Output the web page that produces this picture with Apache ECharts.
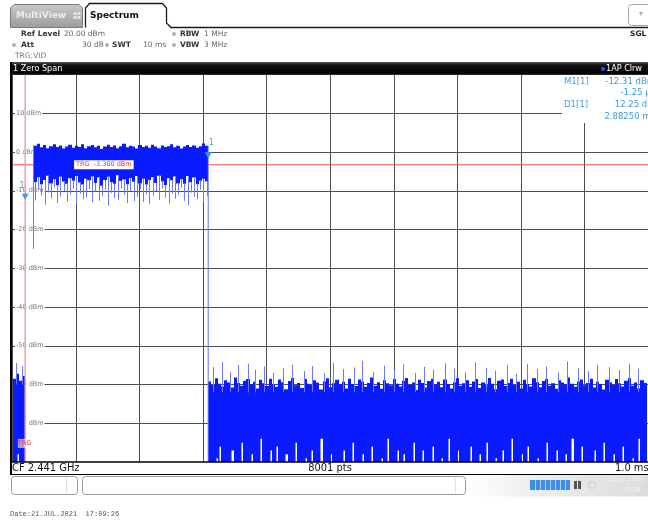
<!DOCTYPE html>
<html><head><meta charset="utf-8">
<script src="https://cdn.jsdelivr.net/npm/echarts@6/dist/echarts.min.js"></script>
<style>html,body{margin:0;padding:0;background:#fff}#c{width:648px;height:521px}</style>
</head><body><div id="c"></div>
<script>
// ---------- data (time in ms, level in dBm) ----------
const yMinDbm = -80, yMaxDbm = 20, yStepDbm = 10;
const sweepMs = 10, divMs = 1;
const trgLevel = -3.3;
const trgTimeMs = 0.2;
const m1 = [0.19875, -12.31];
const d1 = [3.08125, -0.06];
const colStepMs = 0.05;

// pre-trigger noise columns (start 0 ms)
const preStart = 0;
const preTop = [-58.5, -57.2, -59.0, -57.8];
const preBottom = [-80, -78, -80, -80];
const preSpikes = [[0.06, -54.5], [0.15, -55.2]];

// burst columns (start 0.33 ms)
const burstStart = 0.33;
const burstTop = [1.6,2.1,1.2,1.8,1.0,1.5,2.0,1.3,1.7,0.9,
  1.4,1.9,1.1,1.6,1.3,2.0,1.0,1.5,1.8,1.2,
  1.6,0.8,1.4,1.9,1.3,1.7,1.0,1.5,2.1,1.2,
  1.6,1.4,0.9,1.8,1.3,1.6,1.1,1.9,1.4,1.0,
  1.7,1.3,1.5,2.0,1.2,1.6,0.9,1.4,1.8,1.3,
  1.7,1.1,1.5,2.2,1.6];
const burstBase = [-7.8,-6.5,-8.3,-7.2,-6.1,-8.1,-7.0,-8.6,-6.4,-7.6,
  -8.2,-6.8,-7.4,-6.2,-7.9,-8.4,-6.9,-7.3,-6.3,-8.0,
  -6.6,-8.7,-7.2,-6.4,-7.8,-8.2,-6.0,-7.5,-7.1,-8.3,
  -6.7,-7.7,-6.2,-8.1,-6.9,-8.4,-7.2,-6.5,-8.0,-6.1,
  -7.6,-8.5,-6.8,-7.3,-6.3,-8.1,-7.0,-8.2,-6.2,-7.8,
  -6.6,-8.3,-7.4,-6.9,-7.6];
const burstMin = [-12.5,-9.8,-11.2,-13.6,-10.4,-12.0,-9.1,-13.1,-11.5,-10.0,
  -12.8,-11.0,-9.5,-13.4,-10.8,-12.2,-11.7,-9.6,-13.0,-10.3,
  -12.6,-11.4,-9.9,-13.8,-10.6,-11.9,-12.4,-9.3,-11.1,-13.2,
  -10.2,-12.7,-11.6,-9.7,-12.9,-10.9,-13.5,-11.3,-10.1,-12.3,
  -9.4,-11.8,-13.3,-10.7,-12.1,-11.0,-9.2,-12.6,-13.7,-10.5,
  -11.6,-12.2,-9.8,-13.0,-11.4];

// post-burst noise columns (start 3.08 ms)
const noiseStart = 3.08;
const noiseTop = [-59.2,-60.1,-58.4,-59.8,-60.5,-58.9,-59.5,-60.8,-58.2,-59.6,-60.3,-59.0,-58.6,-60.0,-59.3,-61.0,-58.8,-59.7,-60.4,-58.5,
  -59.9,-60.6,-58.7,-59.4,-61.2,-59.1,-58.3,-60.2,-59.6,-60.9,-58.6,-59.8,-60.1,-58.9,-59.5,-61.3,-59.2,-58.4,-60.7,-59.7,
  -58.8,-60.0,-59.3,-61.0,-58.5,-59.9,-60.4,-58.7,-59.2,-60.6,-59.6,-58.2,-60.3,-59.4,-61.1,-58.9,-59.7,-60.2,-58.6,-59.8,
  -60.5,-59.0,-58.3,-60.1,-59.5,-61.4,-58.8,-59.6,-60.8,-59.1,-58.5,-60.0,-59.3,-60.7,-58.7,-59.9,-61.0,-59.4,-58.4,-60.3,
  -59.7,-58.9,-60.6,-59.2,-58.6,-60.9,-59.5,-60.2,-58.3,-59.8,-61.2,-59.0,-58.7,-60.4,-59.6,-58.5,-60.1,-59.3,-61.0,-58.8,
  -59.9,-60.5,-58.4,-59.4,-60.7,-59.1,-58.6,-60.3,-59.7,-61.1,-58.9,-59.5,-60.0,-58.2,-59.8,-60.6,-59.2,-58.7,-60.2,-59.6,
  -58.5,-60.8,-59.3,-59.9,-61.3,-58.8,-59.4,-60.1,-58.6,-59.7,-60.5,-59.0,-58.4,-60.3,-59.5,-61.0,-58.9,-59.6];
const noiseBottom = [-80,-80,-79,-76,-80,-80,-80,-77,-80,-80,-75,-80,-80,-78,-80,-80,-74,-80,-80,-77,
  -80,-76,-80,-80,-78,-80,-80,-75,-80,-80,-79,-80,-77,-80,-80,-74,-80,-80,-78,-80,
  -80,-80,-77,-80,-80,-75,-80,-80,-78,-80,-80,-76,-80,-80,-79,-80,-74,-80,-80,-77,
  -80,-78,-80,-80,-75,-80,-80,-77,-80,-80,-76,-80,-80,-79,-80,-74,-80,-80,-77,-80,
  -80,-80,-76,-80,-80,-78,-80,-75,-80,-80,-79,-80,-77,-80,-80,-74,-80,-80,-78,-80,
  -76,-80,-80,-79,-80,-80,-75,-80,-80,-77,-80,-80,-78,-80,-74,-80,-80,-76,-80,-80,
  -80,-77,-80,-80,-75,-80,-80,-78,-80,-80,-76,-80,-80,-79,-80,-74,-80,-80];
const noiseSpikes = [[3.15,-55.5],[3.3,-54.2],[3.42,-56.8],[3.55,-55.0],[3.7,-54.6],[3.82,-56.2],[3.95,-55.3],[4.1,-57.0],
  [4.25,-55.8],[4.4,-54.9],[4.58,-56.5],[4.72,-55.2],[4.9,-57.1],[5.05,-54.4],[5.2,-56.0],[5.38,-55.6],[5.5,-53.9],
  [5.68,-56.7],[5.85,-55.1],[6.0,-56.3],[6.15,-54.8],[6.33,-57.0],[6.48,-55.4],[6.62,-56.1],[6.8,-54.5],[6.95,-55.9],
  [7.12,-56.8],[7.28,-54.3],[7.45,-55.7],[7.6,-56.4],[7.78,-55.0],[7.92,-57.2],[8.1,-54.7],[8.25,-56.0],[8.4,-55.3],
  [8.58,-56.9],[8.72,-54.1],[8.9,-55.8],[9.05,-56.6],[9.2,-54.9],[9.38,-55.5],[9.55,-56.2],[9.7,-54.6],[9.85,-55.9]];

const riseEdge = [[0.33, -25], [0.33, 1.6]];
const fallEdge = [[3.08, 1.6], [3.08, -80]];

// ---------- styles ----------
const TRACE = '#0a1cff';
const TRACE_LIGHT = '#6a78ff';
const MK = '#3a9be6';
const F = '"DejaVu Sans", sans-serif';
const FN = '"Liberation Sans Narrow", "DejaVu Sans Condensed", sans-serif';

function bandSeries(start, tops, bottoms, mins, thinTail) {
  const data = tops.map((v, i) => [start + i * colStepMs, v, bottoms[i], mins ? mins[i] : bottoms[i]]);
  return {
    type: 'custom', z: 3, clip: true, silent: true, data,
    encode: { x: 0, y: [1, 2, 3] },
    renderItem(params, api) {
      const t0 = api.value(0), top = api.value(1), base = api.value(2), mn = api.value(3);
      const a = api.coord([t0, top]);
      const b = api.coord([t0 + colStepMs, base]);
      const x0 = Math.round(a[0]), x1 = Math.round(b[0]);
      const children = [{ type: 'rect', shape: { x: x0, y: a[1], width: Math.max(1, x1 - x0), height: b[1] - a[1] }, style: { fill: TRACE } }];
      if (thinTail && base > yMinDbm) {
        const f = api.coord([t0, yMinDbm]);
        children.push({ type: 'rect', shape: { x: x0, y: b[1] - 1, width: 1.5, height: f[1] - b[1] + 1 }, style: { fill: TRACE } });
      }
      if (mn < base) {
        const m = api.coord([t0 + colStepMs / 2, mn]);
        const lx = Math.round(m[0]) + 0.5;
        children.push({ type: 'line', shape: { x1: lx, y1: b[1], x2: lx, y2: m[1] }, style: { stroke: TRACE_LIGHT, lineWidth: 1 } });
      }
      return { type: 'group', children };
    }
  };
}
function spikeSeries(spikes, baseLevel) {
  return {
    type: 'custom', z: 3, clip: true, silent: true, data: spikes, encode: { x: 0, y: 1 },
    renderItem(params, api) {
      const p = api.coord([api.value(0), api.value(1)]);
      const q = api.coord([api.value(0), baseLevel]);
      const lx = Math.round(p[0]) + 0.5;
      return { type: 'line', shape: { x1: lx, y1: p[1], x2: lx, y2: q[1] }, style: { stroke: TRACE_LIGHT, lineWidth: 1 } };
    }
  };
}
function lineSeries(data, color, width, z) {
  return { type: 'line', data, z, silent: true, symbol: 'none', animation: false, lineStyle: { color, width } };
}

// ---------- graphics helpers ----------
function T(text, x, y, font, fill, align) {
  return { type: 'text', x, y, z: 100, silent: true,
    style: { text, font, fill, textAlign: align || 'left', align: align || 'left', textVerticalAlign: 'middle', verticalAlign: 'middle' } };
}
function R(x, y, w, h, fill, stroke, r, z, lw) {
  return { type: 'rect', z: z || 90, silent: true, shape: { x, y, width: w, height: h, r: r || 0 },
    style: { fill: fill || 'none', stroke: stroke || 'none', lineWidth: lw || 1 } };
}
function L(x1, y1, x2, y2, stroke, lw, z) {
  return { type: 'line', z: z || 95, silent: true, shape: { x1, y1, x2, y2 }, style: { stroke, lineWidth: lw || 1 } };
}
function dot(x, y, c) {
  return { type: 'circle', z: 100, silent: true, shape: { cx: x, cy: y, r: 2 }, style: { fill: c } };
}
const G = echarts.graphic;

const graphics = [
  // tabs
  { type: 'polygon', z: 90, silent: true, shape: { points: [[10.5, 27.5], [10.5, 8], [14, 4.5], [79, 4.5], [82.5, 8], [82.5, 27.5]] },
    style: { fill: new G.LinearGradient(0, 0, 0, 1, [{ offset: 0, color: '#c9c9c9' }, { offset: 1, color: '#9c9c9c' }]), stroke: '#7a7a7a', lineWidth: 1 } },
  T('MultiView', 16, 16, 'bold 9px ' + F, '#ececec'),
  R(73.5, 12, 3, 3, '#e4e4e4', null, 0, 100), R(77.5, 12, 3, 3, '#e4e4e4', null, 0, 100),
  R(73.5, 16, 3, 3, '#e4e4e4', null, 0, 100), R(77.5, 16, 3, 3, '#e4e4e4', null, 0, 100),
  { type: 'polyline', z: 95, silent: true, shape: { points: [[85.5, 27.5], [85.5, 8], [89.5, 3.5], [162.5, 3.5], [166.5, 8], [166.5, 23], [171, 27.5], [648, 27.5]] },
    style: { fill: 'none', stroke: '#1a1a1a', lineWidth: 1.3 } },
  T('Spectrum', 90, 15.5, 'bold 9px ' + F, '#111'),
  R(628.5, 4.5, 30, 21, '#fff', '#aaaaaa', 3, 95),
  T('▾', 641, 14, '8px ' + F, '#aaaaaa', 'center'),
  T('SGL', 630, 34, 'bold 7.5px ' + F, '#222'),
  // info lines
  T('Ref Level', 21, 34, 'bold 7.5px ' + F, '#333'),
  T('20.00 dBm', 64, 34, '7.5px ' + F, '#666'),
  dot(14, 45, '#b0b0b0'),
  T('Att', 21, 45, 'bold 7.5px ' + F, '#333'),
  T('30 dB', 82, 45, '7.5px ' + F, '#666'),
  dot(107, 45, '#b0b0b0'),
  T('SWT', 112, 45, 'bold 7.5px ' + F, '#333'),
  T('10 ms', 143, 45, '7.5px ' + F, '#666'),
  dot(174, 34, '#b0b0b0'),
  T('RBW', 180, 34, 'bold 7.5px ' + F, '#333'),
  T('1 MHz', 204, 34, '7.5px ' + F, '#666'),
  dot(174, 45, '#b0b0b0'),
  T('VBW', 180, 45, 'bold 7.5px ' + F, '#333'),
  T('3 MHz', 204, 45, '7.5px ' + F, '#666'),
  T('TRG:VID', 15, 56, '7.5px ' + F, '#777'),
  // title bar
  R(10, 62, 638, 12.5, new G.LinearGradient(0, 0, 0, 1, [{ offset: 0, color: '#5a5a5a' }, { offset: 0.25, color: '#111' }, { offset: 1, color: '#000' }]), null, 0, 90),
  T('1 Zero Span', 13, 69, '9px ' + FN, '#ffffff'),
  dot(603, 69, '#2a55ff'),
  T('1AP Clrw', 606, 69, '9px ' + FN, '#ffffff'),
  // left frame
  R(10, 62, 2, 412, '#000', null, 0, 96),
  // marker info box
  R(562, 75, 90, 48, '#fff', null, 0, 90),
  T('M1[1]', 564, 82, '8.5px ' + F, MK),
  T('-12.31 dBm', 655, 82, '8.5px ' + F, MK, 'right'),
  T('-1.25 µs', 655, 93, '8.5px ' + F, MK, 'right'),
  T('D1[1]', 564, 105, '8.5px ' + F, MK),
  T('12.25 dB', 653, 105, '8.5px ' + F, MK, 'right'),
  T('2.88250 ms', 655, 117, '8.5px ' + F, MK, 'right'),
  // bottom status bar
  R(10, 462, 638, 12, '#fff', null, 0, 90),
  L(10, 462, 648, 462, '#000', 1.5),
  L(10, 474.5, 648, 474.5, '#000', 1.2),
  T('CF 2.441 GHz', 12, 468, '11px ' + FN, '#111'),
  T('8001 pts', 330, 468, '11px ' + FN, '#111', 'center'),
  T('1.0 ms/', 615, 468, '11px ' + FN, '#111'),
  // lower widgets
  R(11.5, 476.5, 66, 18, '#fff', '#9a9a9a', 3, 90),
  L(66.5, 478, 66.5, 493, '#dddddd', 1),
  R(82.5, 476.5, 383, 18, '#fff', '#9a9a9a', 3, 90),
  L(455.5, 478, 455.5, 493, '#e2e2e2', 1),
  R(466, 475, 182, 21.5, new G.LinearGradient(0, 0, 1, 0, [{ offset: 0, color: '#ffffff' }, { offset: 0.3, color: '#f0f0f0' }, { offset: 1, color: '#dcdcdc' }]), null, 0, 88),
  T('Ready', 490, 485, '7px ' + F, '#f4f4f4'),
  R(530, 480, 40, 10, '#3b8fe6', null, 0, 92),
  L(535.5, 480, 535.5, 490, '#a8cff5', 1, 93), L(540.5, 480, 540.5, 490, '#a8cff5', 1, 93),
  L(545.5, 480, 545.5, 490, '#a8cff5', 1, 93), L(550.5, 480, 550.5, 490, '#a8cff5', 1, 93),
  L(555.5, 480, 555.5, 490, '#a8cff5', 1, 93), L(560.5, 480, 560.5, 490, '#a8cff5', 1, 93),
  L(565.5, 480, 565.5, 490, '#a8cff5', 1, 93),
  R(574, 481, 3, 8, '#555', null, 0, 92), R(578, 481, 3, 8, '#555', null, 0, 92),
  { type: 'circle', z: 92, silent: true, shape: { cx: 592, cy: 485, r: 3.5 }, style: { fill: 'none', stroke: '#cfcfcf', lineWidth: 1 } },
  T('21.07.2021', 607, 479, '6.5px ' + F, '#f2f2f2'),
  T('17:09', 622, 490, '6.5px ' + F, '#f2f2f2'),
  // date stamp
  T('Date:21.JUL.2021  17:09:26', 10, 514, '7px "Liberation Mono", "DejaVu Sans Mono", monospace', '#555')
];

const option = {
  animation: false,
  backgroundColor: '#ffffff',
  grid: { left: 12.5, top: 74.5, width: 640, height: 387.5, show: false },
  xAxis: {
    type: 'value', min: 0, max: sweepMs, interval: divMs,
    axisLine: { show: false }, axisTick: { show: false }, axisLabel: { show: false },
    splitLine: { show: true, lineStyle: { color: '#4d4d4d', width: 1 } }
  },
  yAxis: [
    { type: 'value', min: yMinDbm, max: yMaxDbm, interval: yStepDbm, z: 0,
      axisLine: { show: false }, axisTick: { show: false }, axisLabel: { show: false },
      splitLine: { show: true, lineStyle: { color: '#4d4d4d', width: 1 } } },
    { type: 'value', position: 'left', offset: 0, min: yMinDbm, max: yMaxDbm, interval: yStepDbm, z: 1,
      axisLine: { show: false }, axisTick: { show: false }, splitLine: { show: false },
      axisLabel: { inside: true, margin: 2.5, showMinLabel: false, showMaxLabel: false,
        fontSize: 6.5, fontFamily: 'DejaVu Sans', color: '#7a7a7a', backgroundColor: '#ffffff', padding: [0, 1],
        formatter: v => v + ' dBm' } }
  ],
  graphic: graphics,
  series: [
    lineSeries([[0, trgLevel], [sweepMs, trgLevel]], '#ff4a4a', 1, 2),
    bandSeries(preStart, preTop, preBottom, null, true),
    spikeSeries(preSpikes, -60),
    bandSeries(burstStart, burstTop, burstBase, burstMin, false),
    bandSeries(noiseStart, noiseTop, noiseBottom, null, true),
    spikeSeries(noiseSpikes, -62),
    lineSeries(riseEdge, TRACE_LIGHT, 1, 3),
    lineSeries(fallEdge, TRACE_LIGHT, 1, 3),
    lineSeries([[trgTimeMs, yMinDbm], [trgTimeMs, yMaxDbm]], '#ff9c9c', 1.5, 4),
    { type: 'scatter', z: 6, silent: true, symbol: 'triangle', symbolRotate: 180, symbolSize: [7, 6],
      itemStyle: { color: MK, opacity: 1 },
      label: { show: true, color: MK, fontSize: 8, fontFamily: 'DejaVu Sans' },
      data: [
        { value: m1, symbolOffset: [0, -3], label: { formatter: '1', position: 'top', offset: [-3, 1] } },
        { value: d1, symbolOffset: [0, 3], label: { formatter: '1', position: 'top', offset: [3, 0] } }
      ] },
    { type: 'scatter', z: 7, silent: true, symbolSize: 0, itemStyle: { opacity: 1 },
      label: { show: true, position: 'inside', color: '#ff2a2a', fontSize: 6.5, fontFamily: 'DejaVu Sans', backgroundColor: '#ffffff', padding: [1, 2] },
      data: [
        { value: [1.4375, trgLevel], label: { formatter: 'TRG  -3.300 dBm' } },
        { value: [0.19, -75.2], label: { formatter: 'TRG', backgroundColor: 'rgba(255,255,255,0.6)', padding: [1, 0] } }
      ] }
  ]
};
const chart = echarts.init(document.getElementById('c'), null, { renderer: 'canvas', width: 648, height: 521 });
chart.setOption(option);
</script>
</body></html>
